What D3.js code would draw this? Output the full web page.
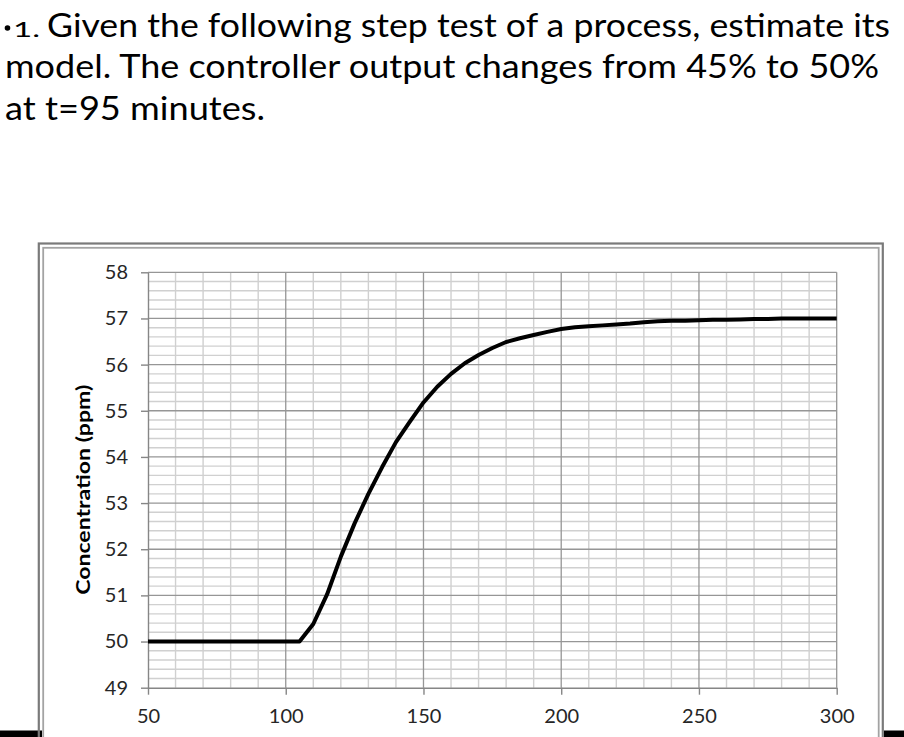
<!DOCTYPE html>
<html>
<head>
<meta charset="utf-8">
<script src="https://cdn.jsdelivr.net/npm/d3@7"></script>
<style>
  html, body { margin: 0; padding: 0; background: #fff; }
  svg { display: block; }
</style>
</head>
<body>
<svg id="chart" width="904" height="737"></svg>
<script>
// ---- data ----
const titleLines = [
  "Given the following step test of a process, estimate its",
  "model. The controller output changes from 45% to 50%",
  "at t=95 minutes."
];
const bulletLabel = "1.";
const yAxisTitle = "Concentration (ppm)";
const xTickLabels = [50, 100, 150, 200, 250, 300];
const yTickLabels = [49, 50, 51, 52, 53, 54, 55, 56, 57, 58];
const timeMin = [50, 55, 60, 65, 70, 75, 80, 85, 90, 95, 100, 105, 110, 115, 120, 125, 130, 135, 140, 145,
  150, 155, 160, 165, 170, 175, 180, 185, 190, 195, 200, 205, 210, 215, 220, 225, 230, 235, 240, 245,
  250, 255, 260, 265, 270, 275, 280, 285, 290, 295, 300];
const concentration = [50, 50, 50, 50, 50, 50, 50, 50, 50, 50, 50, 50, 50.38, 51.02, 51.84, 52.56, 53.2, 53.78, 54.32, 54.76,
  55.18, 55.52, 55.8, 56.03, 56.21, 56.36, 56.49, 56.57, 56.64, 56.71, 56.77, 56.81, 56.83, 56.85, 56.87, 56.89, 56.92, 56.94, 56.95, 56.95,
  56.96, 56.97, 56.97, 56.98, 56.99, 56.99, 57.0, 57.0, 57.0, 57.0, 57.0];

// ---- drawing ----
const svg = d3.select("#chart");
const FONT = "Lato, 'Open Sans', sans-serif";

// title
const tg = svg.append("g").attr("font-family", FONT).attr("fill", "#000");
tg.append("circle").attr("cx", 7.5).attr("cy", 28).attr("r", 2.8);
tg.append("text").attr("x", 13).attr("y", 36.5).attr("font-size", 21)
  .attr("textLength", 27).attr("lengthAdjust", "spacingAndGlyphs").text(bulletLabel);
const titlePos = [
  { x: 47, y: 36.5, w: 843 },
  { x: 5, y: 78, w: 874 },
  { x: 5, y: 119.5, w: 260 }
];
titleLines.forEach((t, i) => {
  tg.append("text").attr("x", titlePos[i].x).attr("y", titlePos[i].y)
    .attr("font-size", 33)
    .attr("textLength", titlePos[i].w).attr("lengthAdjust", "spacingAndGlyphs")
    .text(t);
});

// bottom black bars (slide background) and chart frame
svg.append("rect").attr("x", 0).attr("y", 730.5).attr("width", 42).attr("height", 10).attr("fill", "#000");
svg.append("rect").attr("x", 884).attr("y", 730.5).attr("width", 20).attr("height", 10).attr("fill", "#000");
svg.append("rect").attr("x", 38.8).attr("y", 243.5).attr("width", 844).attr("height", 600)
  .attr("fill", "none").attr("stroke", "#7a7a7a").attr("stroke-width", 2.2);
svg.append("rect").attr("x", 43.2).attr("y", 247.8).attr("width", 835.5).attr("height", 600)
  .attr("fill", "none").attr("stroke", "#a3a3a3").attr("stroke-width", 1.8);

// scales
const x = d3.scaleLinear().domain([50, 300]).range([148, 836.7]);
const y = d3.scaleLinear().domain([49, 58]).range([687.7, 272.3]);

// gridlines
const grid = svg.append("g");
const minorX = d3.range(60, 300, 10).filter(v => v % 50 !== 0);
const minorY = d3.range(49.2, 58, 0.2).filter(v => Math.abs(v - Math.round(v)) > 0.01);
grid.selectAll(".mx").data(minorX).join("line")
  .attr("x1", d => x(d)).attr("x2", d => x(d)).attr("y1", y(58)).attr("y2", y(49))
  .attr("stroke", "#d0d0d0").attr("stroke-width", 1.4);
grid.selectAll(".my").data(minorY).join("line")
  .attr("x1", x(50)).attr("x2", x(300)).attr("y1", d => y(d)).attr("y2", d => y(d))
  .attr("stroke", "#d0d0d0").attr("stroke-width", 1.4);
grid.selectAll(".Mx").data(xTickLabels.filter(v => v > 50)).join("line")
  .attr("x1", d => x(d)).attr("x2", d => x(d)).attr("y1", y(58)).attr("y2", y(49))
  .attr("stroke", "#969696").attr("stroke-width", 1.3);
grid.selectAll(".My").data(yTickLabels.filter(v => v > 49)).join("line")
  .attr("x1", x(50)).attr("x2", x(300)).attr("y1", d => y(d)).attr("y2", d => y(d))
  .attr("stroke", "#969696").attr("stroke-width", 1.3);

// axes
const yAxis = svg.append("g").attr("transform", `translate(${x(50)},0)`)
  .call(d3.axisLeft(y).tickValues(yTickLabels).tickSize(7).tickSizeOuter(0).tickPadding(13));
const xAxis = svg.append("g").attr("transform", `translate(0,${y(49)})`)
  .call(d3.axisBottom(x).tickValues(xTickLabels).tickSize(7).tickSizeOuter(0).tickPadding(14));
[yAxis, xAxis].forEach(a => {
  a.select(".domain").attr("stroke", "#868686").attr("stroke-width", 1.4);
  a.selectAll(".tick line").attr("stroke", "#868686").attr("stroke-width", 1.4);
  a.selectAll(".tick text").attr("font-family", FONT).attr("font-size", 20).attr("fill", "#262626");
});

// y axis title
svg.append("text")
  .attr("transform", `translate(89.5,${(383.5 + 596) / 2}) rotate(-90)`)
  .attr("text-anchor", "middle")
  .attr("font-family", FONT).attr("font-weight", "bold").attr("font-size", 18)
  .attr("fill", "#000")
  .attr("textLength", 210).attr("lengthAdjust", "spacingAndGlyphs")
  .text(yAxisTitle);

// series line
const pts = timeMin.map((t, i) => [t, concentration[i]]);
svg.append("path").datum(pts)
  .attr("fill", "none").attr("stroke", "#000").attr("stroke-width", 4)
  .attr("stroke-linejoin", "round")
  .attr("d", d3.line().x(d => x(d[0])).y(d => y(d[1])));
</script>
</body>
</html>
